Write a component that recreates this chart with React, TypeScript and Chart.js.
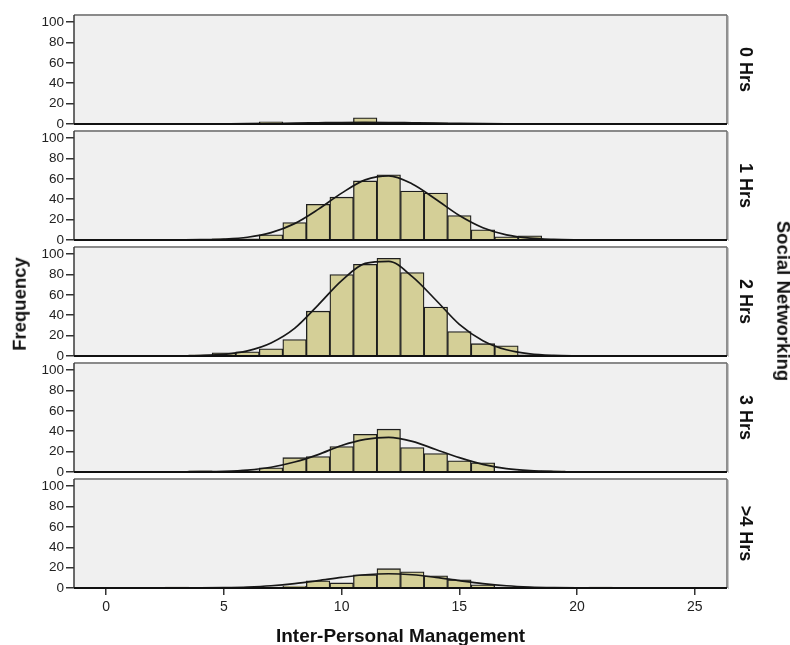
import React, { useEffect, useRef } from 'react';
import { Chart, registerables } from 'chart.js';

Chart.register(...registerables);

// ---- data ----
const BIN_CENTERS = [0, 1, 2, 3, 4, 5, 6, 7, 8, 9, 10, 11, 12, 13, 14, 15, 16, 17, 18, 19, 20, 21, 22, 23, 24, 25];

const COUNTS_0HRS = [0, 0, 0, 0, 0, 0, 0, 2, 0, 0, 0, 6, 1, 0, 1, 0, 0, 0, 0, 0, 0, 0, 0, 0, 0, 0];
const COUNTS_1HRS = [0, 0, 0, 0, 0, 1, 1, 5, 17, 35, 42, 58, 64, 48, 46, 24, 10, 3, 4, 0, 0, 0, 0, 0, 0, 0];
const COUNTS_2HRS = [0, 0, 0, 0, 1, 3, 4, 7, 16, 44, 80, 90, 96, 82, 48, 24, 12, 10, 1, 0, 0, 0, 0, 0, 0, 0];
const COUNTS_3HRS = [0, 0, 0, 0, 1, 0, 1, 4, 14, 15, 25, 37, 42, 24, 18, 11, 9, 0, 1, 1, 0, 0, 0, 0, 0, 0];
const COUNTS_4HRS = [0, 0, 0, 1, 0, 0, 0, 1, 2, 7, 5, 13, 19, 16, 12, 8, 3, 1, 0, 0, 0, 1, 0, 0, 0, 0];

const CURVE_X = [3, 4, 5, 6, 7, 8, 9, 10, 11, 12, 13, 14, 15, 16, 17, 18, 19, 20, 21];
const CURVE_0HRS = [0, 0.04, 0.1, 0.2, 0.45, 0.8, 1.1, 1.4, 1.5, 1.4, 1.1, 0.8, 0.45, 0.2, 0.1, 0.04, 0, 0, 0];
const CURVE_1HRS = [0, 0.2, 0.8, 2.6, 7.1, 16, 30, 46, 59, 63, 55, 40, 24, 12, 4.9, 1.7, 0.5, 0.1, 0];
const CURVE_2HRS = [0.1, 0.4, 1.5, 4.9, 12.7, 27, 50, 74, 91, 93, 78, 55, 31, 15, 6, 2, 0.5, 0.1, 0];
const CURVE_3HRS = [0, 0.2, 0.6, 1.8, 4.6, 9.7, 17, 26, 32, 34, 30, 22, 14, 7.4, 3.2, 1.2, 0.4, 0.1, 0];
const CURVE_4HRS = [0.05, 0.1, 0.4, 1.0, 2.2, 4.3, 7.2, 10.4, 13, 14, 13, 10.4, 7.2, 4.3, 2.2, 1.0, 0.4, 0.1, 0.05];

const PANEL_LABELS = ['0 Hrs', '1 Hrs', '2 Hrs', '3 Hrs', '>4 Hrs'];
const X_TICKS = [0, 5, 10, 15, 20, 25];
const Y_TICKS = [0, 20, 40, 60, 80, 100];
const X_TITLE = 'Inter-Personal Management';
const Y_TITLE = 'Frequency';
const ROW_TITLE = 'Social Networking';

const PANEL_COUNTS = [COUNTS_0HRS, COUNTS_1HRS, COUNTS_2HRS, COUNTS_3HRS, COUNTS_4HRS];
const PANEL_CURVES = [CURVE_0HRS, CURVE_1HRS, CURVE_2HRS, CURVE_3HRS, CURVE_4HRS];

// ---- layout / style ----
const W = 790;
const H = 645;
const FIRST_TOP = 15;
const PITCH = 116;
const PANEL_H = 109;
const AREA_LEFT = 74;
const AREA_RIGHT = 727;
const X_MIN = -1.37;
const X_MAX = 26.37;
const Y_MAX = 107;
const FONT = "'Liberation Sans', Arial, Helvetica, sans-serif";
const BAR_FILL = '#d4cf97';
const BAR_EDGE = '#1e1e1e';
const PANEL_BG = '#f0f0f0';

const framePlugin = {
  id: 'frame',
  beforeDraw(chart: any) {
    const { ctx, chartArea: a } = chart;
    ctx.save();
    ctx.fillStyle = PANEL_BG;
    ctx.fillRect(a.left, a.top, a.right - a.left, a.bottom - a.top);
    ctx.restore();
  },
  afterDatasetsDraw(chart: any, _args: any, opts: any) {
    const { ctx, chartArea: a } = chart;
    ctx.save();
    // top border
    ctx.strokeStyle = '#8a8a8a';
    ctx.lineWidth = 2;
    ctx.beginPath();
    ctx.moveTo(a.left, a.top);
    ctx.lineTo(a.right, a.top);
    ctx.stroke();
    // right border with soft shadow
    ctx.strokeStyle = '#c8c8c8';
    ctx.lineWidth = 1;
    ctx.beginPath();
    ctx.moveTo(a.right + 1.5, a.top + 1);
    ctx.lineTo(a.right + 1.5, a.bottom + 1);
    ctx.stroke();
    ctx.strokeStyle = '#6e6e6e';
    ctx.lineWidth = 1.5;
    ctx.beginPath();
    ctx.moveTo(a.right, a.top);
    ctx.lineTo(a.right, a.bottom);
    ctx.stroke();
    // left axis line
    ctx.strokeStyle = '#3a3a3a';
    ctx.lineWidth = 1.5;
    ctx.beginPath();
    ctx.moveTo(a.left, a.top);
    ctx.lineTo(a.left, a.bottom);
    ctx.stroke();
    // bottom axis line
    ctx.strokeStyle = '#111';
    ctx.lineWidth = 2;
    ctx.beginPath();
    ctx.moveTo(a.left, a.bottom);
    ctx.lineTo(a.right, a.bottom);
    ctx.stroke();
    // panel label
    ctx.fillStyle = '#111';
    ctx.font = `bold 18px ${FONT}`;
    ctx.textAlign = 'center';
    ctx.textBaseline = 'middle';
    ctx.translate(745, (a.top + a.bottom) / 2);
    ctx.rotate(Math.PI / 2);
    ctx.fillText(opts.label, 0, 0);
    ctx.restore();
  },
};

function Panel({ index }: { index: number }) {
  const ref = useRef<HTMLCanvasElement | null>(null);
  const isLast = index === PANEL_LABELS.length - 1;
  const areaTop = FIRST_TOP + index * PITCH;
  const canvasTop = areaTop - 10;
  const canvasH = isLast ? H - canvasTop : PANEL_H + 20;

  useEffect(() => {
    if (!ref.current) return;
    const counts = PANEL_COUNTS[index];
    const curve = PANEL_CURVES[index];
    const bars = BIN_CENTERS.map((x, i) => ({ x, y: counts[i] })).filter((p) => p.y > 0);
    const line = CURVE_X.map((x, i) => ({ x, y: curve[i] }));

    const chart = new Chart(ref.current, {
      type: 'bar',
      data: {
        datasets: [
          {
            type: 'line',
            data: line,
            borderColor: '#181818',
            borderWidth: 1.7,
            pointRadius: 0,
            cubicInterpolationMode: 'monotone',
            fill: false,
            order: 0,
          } as any,
          {
            type: 'bar',
            data: bars,
            backgroundColor: BAR_FILL,
            borderColor: BAR_EDGE,
            borderWidth: 1.3,
            barPercentage: 1,
            categoryPercentage: 1,
            order: 1,
          } as any,
        ],
      },
      options: {
        animation: false,
        responsive: false,
        events: [],
        layout: {
          padding: { top: 10, left: 0, right: W - AREA_RIGHT, bottom: isLast ? 0 : 10 },
        },
        plugins: {
          legend: { display: false },
          tooltip: { enabled: false },
          frame: { label: PANEL_LABELS[index] },
        } as any,
        scales: {
          x: {
            type: 'linear',
            min: X_MIN,
            max: X_MAX,
            display: isLast,
            offset: false,
            afterBuildTicks: (s: any) => {
              s.ticks = X_TICKS.map((v) => ({ value: v }));
            },
            afterFit: (s: any) => {
              if (isLast) s.height = H - (areaTop + PANEL_H);
            },
            grid: { offset: false, drawOnChartArea: false, drawTicks: true, tickLength: 7, color: '#333', lineWidth: 1.5 },
            border: { display: false },
            ticks: { color: '#222', font: { family: FONT, size: 14 }, padding: 4, maxRotation: 0, autoSkip: false },
            title: {
              display: true,
              text: X_TITLE,
              color: '#111',
              font: { family: FONT, size: 19, weight: 'bold' },
              padding: { top: 0, bottom: -3 },
            },
          },
          y: {
            type: 'linear',
            min: 0,
            max: Y_MAX,
            afterBuildTicks: (s: any) => {
              s.ticks = Y_TICKS.map((v) => ({ value: v }));
            },
            afterFit: (s: any) => {
              s.width = AREA_LEFT;
            },
            grid: { drawOnChartArea: false, drawTicks: true, tickLength: 8, color: '#333', lineWidth: 1.5 },
            border: { display: false },
            ticks: { color: '#222', font: { family: FONT, size: 13.5 }, padding: 2 },
          },
        },
      } as any,
      plugins: [framePlugin],
    });
    return () => chart.destroy();
  }, [index]);

  return (
    <canvas
      ref={ref}
      width={W}
      height={canvasH}
      style={{ position: 'absolute', left: 0, top: canvasTop, width: W, height: canvasH }}
    />
  );
}

export default function App() {
  const labelStyle: React.CSSProperties = {
    position: 'absolute',
    fontFamily: FONT,
    fontWeight: 'bold',
    fontSize: 18.5,
    color: '#111',
    whiteSpace: 'nowrap',
    lineHeight: '1',
  };
  return (
    <div style={{ position: 'fixed', left: 0, top: 0, width: W, height: H, background: '#fff', overflow: 'hidden' }}>
      {PANEL_LABELS.map((_, i) => (
        <Panel key={i} index={i} />
      ))}
      <div style={{ ...labelStyle, left: 20, top: 304, transform: 'translate(-50%, -50%) rotate(-90deg)' }}>{Y_TITLE}</div>
      <div style={{ ...labelStyle, left: 783, top: 301, transform: 'translate(-50%, -50%) rotate(90deg)' }}>{ROW_TITLE}</div>
    </div>
  );
}
